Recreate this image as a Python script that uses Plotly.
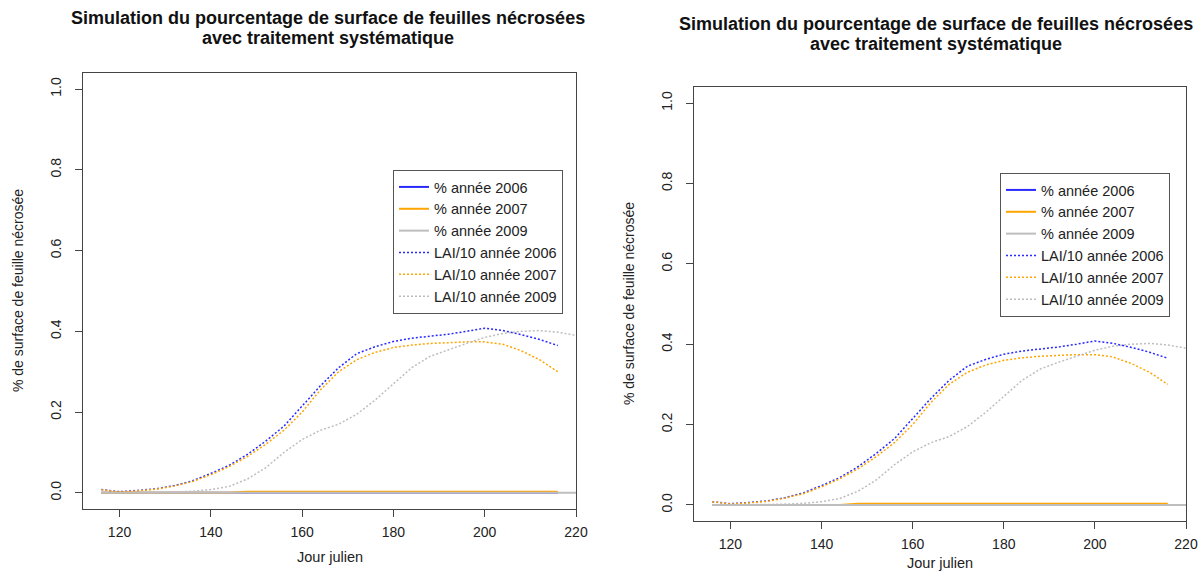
import plotly.graph_objects as go

# ---- data ----
days = [116, 120, 124, 128, 132, 136, 140, 144, 148, 152, 156, 160, 164,
        168, 172, 176, 180, 184, 188, 192, 196, 200, 204, 208, 212, 216]
days_2009 = days + [220]

pct_2006 = [0.0] * len(days)
pct_2007 = [0.0, 0.0, 0.0, 0.0, 0.0, 0.0, 0.0, 0.0, 0.003, 0.003, 0.003, 0.003, 0.003,
            0.003, 0.003, 0.003, 0.003, 0.003, 0.003, 0.003, 0.003, 0.003, 0.003, 0.003, 0.003, 0.003]
pct_2009 = [0.0] * len(days_2009)

lai_2006 = [0.008, 0.003, 0.006, 0.010, 0.018, 0.030, 0.048, 0.068, 0.095, 0.128, 0.165, 0.215, 0.265,
            0.310, 0.345, 0.362, 0.375, 0.383, 0.388, 0.393, 0.400, 0.408, 0.402, 0.392, 0.380, 0.365]
lai_2007 = [0.008, 0.002, 0.005, 0.009, 0.017, 0.028, 0.045, 0.065, 0.090, 0.120, 0.155, 0.200, 0.255,
            0.300, 0.330, 0.348, 0.360, 0.366, 0.370, 0.372, 0.374, 0.374, 0.368, 0.352, 0.330, 0.300]
lai_2009 = [0.0, 0.0, 0.001, 0.001, 0.002, 0.004, 0.008, 0.016, 0.034, 0.062, 0.100, 0.132, 0.155,
            0.170, 0.195, 0.230, 0.270, 0.310, 0.338, 0.355, 0.370, 0.385, 0.395, 0.400, 0.402, 0.398, 0.390]

names = ["% année 2006", "% année 2007", "% année 2009",
         "LAI/10 année 2006", "LAI/10 année 2007", "LAI/10 année 2009"]
x_ticks = [120, 140, 160, 180, 200, 220]
y_ticks = [0.0, 0.2, 0.4, 0.6, 0.8, 1.0]

title_lines = ["Simulation du pourcentage de surface de feuilles nécrosées",
               "avec traitement systématique"]
x_title = "Jour julien"
y_title = "% de surface de feuille nécrosée"

BLUE = "#2a2aff"
ORANGE = "#ffa500"
GREY = "#bebebe"
DOTS = "2px,2px"

W, H = 1201, 583
FONT = "Liberation Sans, Arial, sans-serif"

fig = go.Figure()

series = [
    (days, pct_2006, BLUE, "solid", 2),
    (days, pct_2007, ORANGE, "solid", 2),
    (days_2009, pct_2009, GREY, "solid", 2),
    (days, lai_2006, BLUE, DOTS, 1.5),
    (days, lai_2007, ORANGE, DOTS, 1.5),
    (days_2009, lai_2009, GREY, DOTS, 1.5),
]

for xa, ya, lg in [("x", "y", "legend"), ("x2", "y2", "legend2")]:
    for name, (xs, ys, col, dash, w) in zip(names, series):
        fig.add_trace(go.Scatter(x=xs, y=ys, mode="lines", name=name,
                                 line=dict(color=col, dash=dash, width=w),
                                 xaxis=xa, yaxis=ya, legend=lg, showlegend=True))

# panel geometry in pixels: (left, right, top, bottom, title centre)
panels = [(83, 576, 73, 509, 328), (694, 1186, 87, 521, 936)]

axis_common = dict(showline=True, mirror=True, linecolor="#444", linewidth=1,
                   ticks="outside", ticklen=7, tickcolor="#444",
                   showgrid=False, zeroline=False,
                   tickfont=dict(family=FONT, size=14, color="#222"))

layout = dict(width=W, height=H, paper_bgcolor="white", plot_bgcolor="white",
              margin=dict(l=0, r=0, t=0, b=0, autoexpand=False),
              font=dict(family=FONT, color="#111"), annotations=[])

for i, (l, r, t, b, tc) in enumerate(panels):
    sfx = "" if i == 0 else "2"
    layout["xaxis" + sfx] = dict(axis_common, domain=[l / W, r / W], range=[112, 220],
                                 tickvals=x_ticks, anchor="y" + sfx, ticklabelstandoff=3)
    layout["yaxis" + sfx] = dict(axis_common, domain=[(H - b) / H, (H - t) / H],
                                 range=[-0.04, 1.04], tickvals=y_ticks, tickformat=".1f",
                                 tickangle=-90, anchor="x" + sfx, ticklabelstandoff=8)
    cx = (l + r) / 2
    ty = [18, 38] if i == 0 else [24, 44]
    for line, yy in zip(title_lines, ty):
        layout["annotations"].append(dict(text="<b>%s</b>" % line, x=tc / W, y=(H - yy) / H,
                                          xref="paper", yref="paper", showarrow=False,
                                          xanchor="center", yanchor="middle",
                                          font=dict(family=FONT, size=18, color="#111")))
    layout["annotations"].append(dict(text=x_title, x=cx / W, y=(H - (557 if i == 0 else 563)) / H,
                                      xref="paper", yref="paper", showarrow=False,
                                      xanchor="center", yanchor="middle",
                                      font=dict(family=FONT, size=14.5, color="#222")))
    layout["annotations"].append(dict(text=y_title, x=(l - 65) / W, y=(H - (t + b) / 2) / H,
                                      xref="paper", yref="paper", showarrow=False, textangle=-90,
                                      xanchor="center", yanchor="middle",
                                      font=dict(family=FONT, size=14, color="#222")))

leg_common = dict(bgcolor="white", bordercolor="#555", borderwidth=1,
                  font=dict(family=FONT, size=14.5, color="#222"),
                  xanchor="left", yanchor="top", tracegroupgap=0, itemwidth=30)
layout["legend"] = dict(leg_common, x=393 / W, y=(H - 170) / H)
layout["legend2"] = dict(leg_common, x=1000 / W, y=(H - 173) / H)

fig.update_layout(**layout)
fig.write_html("out.html", config={"displayModeBar": False},
               post_script="document.body.style.margin='0px';")
